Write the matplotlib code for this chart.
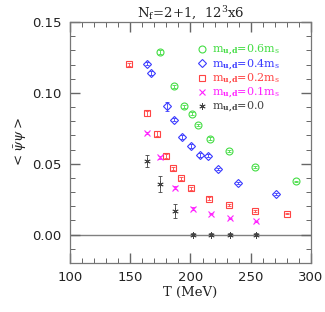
import numpy as np
import matplotlib.pyplot as plt

plt.rcParams['mathtext.fontset'] = 'dejavuserif'

# m_ud = 0.6 ms (green circles)
T_06 = [174.4, 186.4, 194.4, 201.4, 206.4, 216.1, 231.7, 253.3, 287.8]
pbp_06 = [0.1288, 0.1046, 0.0904, 0.0853, 0.0773, 0.0678, 0.0589, 0.0475, 0.0377]
err_06 = [0.0012, 0.0012, 0.0012, 0.0010, 0.0010, 0.0008, 0.0008, 0.0006, 0.0005]

# m_ud = 0.4 ms (blue diamonds)
T_04 = [164.2, 167.2, 180.6, 186.1, 193.3, 200.6, 207.5, 214.4, 222.5, 239.4, 270.8]
pbp_04 = [0.1207, 0.1139, 0.0904, 0.0811, 0.0689, 0.0626, 0.0561, 0.0556, 0.0463, 0.0366, 0.0287]
err_04 = [0.0012, 0.0015, 0.0033, 0.0012, 0.0012, 0.0012, 0.0012, 0.0010, 0.0008, 0.0006, 0.0005]

# m_ud = 0.2 ms (red squares)
T_02 = [148.9, 164.2, 172.2, 179.7, 185.3, 192.5, 200.3, 215.3, 231.9, 253.9, 280.0]
pbp_02 = [0.1202, 0.0855, 0.0713, 0.0556, 0.0468, 0.0398, 0.0326, 0.0254, 0.0210, 0.0165, 0.0147]
err_02 = [0.0012, 0.0015, 0.0015, 0.0015, 0.0012, 0.0012, 0.0012, 0.0010, 0.0008, 0.0006, 0.0004]

# m_ud = 0.1 ms (magenta crosses)
T_01 = [163.9, 174.4, 187.2, 201.7, 216.7, 232.8, 254.2]
pbp_01 = [0.0717, 0.0545, 0.0331, 0.0184, 0.0149, 0.0116, 0.0093]
err_01 = [0.0010, 0.0010, 0.0010, 0.0008, 0.0006, 0.0005, 0.0004]

# m_ud = 0.0 (chiral extrapolation, black)
T_00 = [163.9, 174.4, 187.2, 201.7, 216.7, 232.8, 254.2]
pbp_00 = [0.0519, 0.0356, 0.0170, 0.0, 0.0, 0.0, 0.0]
err_00 = [0.0045, 0.0055, 0.0049, 0.0012, 0.0012, 0.0012, 0.0012]

fig = plt.figure(figsize=(3.25, 3.12), dpi=100)
ax = fig.add_axes([0.2154, 0.157, 0.7415, 0.7725])

ax.axhline(0.0, color='#808080', linewidth=1.0, zorder=1)

series = [
    (T_06, pbp_06, err_06, 'o', '#44dd44', r'm$_\mathbf{u{,}d}$=0.6m$_\mathrm{s}$'),
    (T_04, pbp_04, err_04, 'D', '#3a3aff', r'm$_\mathbf{u{,}d}$=0.4m$_\mathrm{s}$'),
    (T_02, pbp_02, err_02, 's', '#ff4444', r'm$_\mathbf{u{,}d}$=0.2m$_\mathrm{s}$'),
    (T_01, pbp_01, err_01, 'x', '#ff22ff', r'm$_\mathbf{u{,}d}$=0.1m$_\mathrm{s}$'),
    (T_00, pbp_00, err_00, (6, 2, 0), '#444444', r'm$_\mathbf{u{,}d}$=0.0'),
]

sizes = {'o': 5, 'D': 3.8, 's': 5, 'x': 4.5}
handles = []
for T, y, e, m, c, lab in series:
    ms = sizes.get(m, 4.5) if isinstance(m, str) else 4.5
    ax.errorbar(T, y, yerr=e, fmt='none', ecolor=c, elinewidth=0.6,
                capsize=1.3, capthick=0.6, zorder=2)
    p, = ax.plot(T, y, linestyle='none', marker=m, markersize=ms,
                 markerfacecolor='none', markeredgecolor=c,
                 markeredgewidth=0.8 if m != (6, 2, 0) else 0.6,
                 label=lab, zorder=3)
    handles.append(p)

ax.legend(handles=handles, loc='upper left', bbox_to_anchor=(0.532, 0.912),
          frameon=False, handlelength=0.7, handletextpad=0.55,
          labelspacing=-0.1, borderpad=0, borderaxespad=0,
          labelcolor=[s[4] for s in series], prop={'family': 'DejaVu Serif', 'size': 8})

ax.set_xlim(100, 300)
ax.set_ylim(-0.02, 0.15)
ax.set_xticks([100, 150, 200, 250, 300])
ax.set_xticks(np.arange(100, 301, 10), minor=True)
ax.set_yticks([0.0, 0.05, 0.10, 0.15])
ax.set_yticklabels(['0.00', '0.05', '0.10', '0.15'])
ax.set_yticks(np.arange(-0.02, 0.151, 0.01), minor=True)

ax.tick_params(which='both', direction='in', top=True, right=True,
               colors='#666666', labelcolor='#222222', labelsize=9.5)
ax.tick_params(which='major', length=7, width=1.0, pad=6)
ax.tick_params(which='minor', length=3.5, width=0.7)
for sp in ax.spines.values():
    sp.set_color('#777777')
    sp.set_linewidth(0.9)

ax.set_xlabel('T (MeV)', fontsize=9.5, family='DejaVu Serif', labelpad=1, color='#222222')
ax.set_ylabel(r'$<\bar{\psi}\psi>$', fontsize=9.5, labelpad=2, color='#222222')
ax.set_title(r'N$_\mathrm{f}$=2+1,  12$^3$x6', fontsize=9.5, family='DejaVu Serif',
             pad=3, color='#222222')

fig.savefig('out.png', dpi=100)
